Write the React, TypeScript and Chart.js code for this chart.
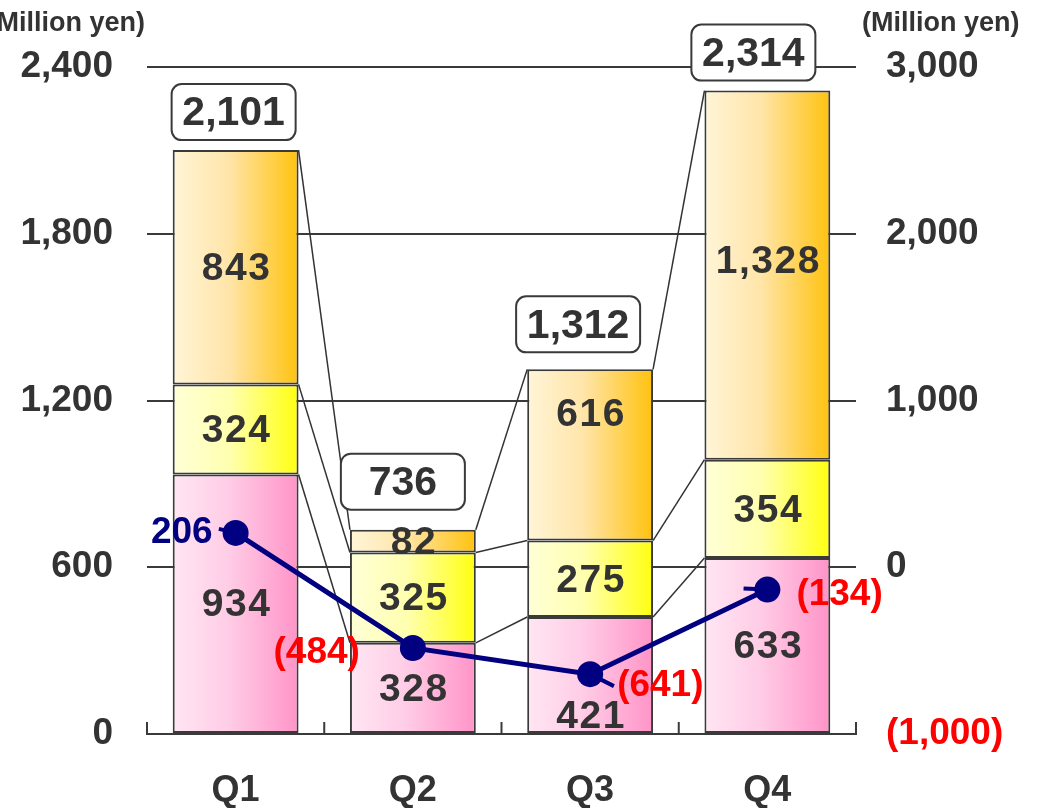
import React, { useEffect, useRef } from "react";
import { Chart, registerables } from "chart.js";

Chart.register(...registerables);

const categories = ["Q1", "Q2", "Q3", "Q4"];
const bottomSeries = [934, 328, 421, 633];
const middleSeries = [324, 325, 275, 354];
const topSeries = [843, 82, 616, 1328];
const totalLabels = ["2,101", "736", "1,312", "2,314"];
const lineSeries = [206, -484, -641, -134];
const axisTitle = "(Million yen)";

const FONT = "'Liberation Sans', Arial, Helvetica, sans-serif";
const DARK = "#333333";
const LINE_GRAY = "#3a3a3a";
const BAR_RATIO = 0.71;

const fmt = (v: number) => {
  const s = Math.abs(v).toLocaleString("en-US");
  return v < 0 ? `(${s})` : s;
};

function gradientFill(stops: [number, string][]) {
  return (ctx: any) => {
    const chart = ctx.chart;
    const xs = chart.scales && chart.scales.x;
    if (!xs || !chart.chartArea || ctx.dataIndex === undefined) return stops[stops.length - 1][1];
    const cx = xs.getPixelForValue(ctx.dataIndex);
    const w = (xs.width / categories.length) * BAR_RATIO;
    const g = chart.ctx.createLinearGradient(cx - w / 2, 0, cx + w / 2, 0);
    stops.forEach(([p, c]) => g.addColorStop(p, c));
    return g;
  };
}

// per-label pixel nudges (style/layout only)
const segLabelNudge: Record<string, number> = { "2-2": -42, "2-3": -15, "0-2": 40 };
const boxNudge = [
  { dx: -2, gap: 10 },
  { dx: -10, gap: 20 },
  { dx: -12, gap: 17 },
  { dx: -14, gap: 10 },
];
const lineLabelPos = [
  { dx: -23, dy: -2, align: "right", lx: -12, ly: -4 },
  { dx: -53, dy: 3, align: "right", lx: 0, ly: 0 },
  { dx: 27, dy: 10, align: "left", lx: 17, ly: 12 },
  { dx: 29, dy: 3, align: "left", lx: -17, ly: -1 },
];

const decorPlugin = {
  id: "decor",
  beforeDatasetDraw(chart: any, args: any) {
    if (args.index !== 3) return;
    const ctx = chart.ctx;
    const metas = [0, 1, 2].map((i) => chart.getDatasetMeta(i));
    // connectors
    ctx.save();
    ctx.strokeStyle = DARK;
    ctx.lineWidth = 1.5;
    metas.forEach((meta: any) => {
      for (let i = 0; i < meta.data.length - 1; i++) {
        const a = meta.data[i];
        const b = meta.data[i + 1];
        ctx.beginPath();
        ctx.moveTo(a.x + a.width / 2, a.y);
        ctx.lineTo(b.x - b.width / 2, b.y);
        ctx.stroke();
      }
    });
    // segment labels
    ctx.font = `bold 39px ${FONT}`;
    (ctx as any).letterSpacing = "1.5px";
    ctx.fillStyle = DARK;
    ctx.textAlign = "center";
    ctx.textBaseline = "middle";
    metas.forEach((meta: any, k: number) => {
      const ds = chart.data.datasets[k];
      meta.data.forEach((el: any, i: number) => {
        const cy = (el.y + el.base) / 2 + (segLabelNudge[`${k}-${i}`] || 0);
        ctx.fillText(fmt(ds.data[i]), el.x + 1, cy + 2);
      });
    });
    (ctx as any).letterSpacing = "0px";
    // leader stubs for line labels
    const lineMeta = chart.getDatasetMeta(3);
    ctx.strokeStyle = "#000080";
    ctx.lineWidth = 4;
    lineMeta.data.forEach((pt: any, i: number) => {
      const p = lineLabelPos[i];
      if (!p.lx && !p.ly) return;
      ctx.beginPath();
      ctx.moveTo(pt.x, pt.y);
      ctx.lineTo(pt.x + p.lx * 1.4, pt.y + p.ly);
      ctx.stroke();
    });
    ctx.restore();
  },
  afterDatasetsDraw(chart: any) {
    const ctx = chart.ctx;
    const area = chart.chartArea;
    const topMeta = chart.getDatasetMeta(2);
    // total boxes
    ctx.save();
    topMeta.data.forEach((el: any, i: number) => {
      const w = 124;
      const h = 56;
      const cx = el.x + boxNudge[i].dx;
      const bottom = el.y - boxNudge[i].gap;
      const x = cx - w / 2;
      const y = bottom - h;
      ctx.beginPath();
      (ctx as any).roundRect(x, y, w, h, 10);
      ctx.fillStyle = "#ffffff";
      ctx.fill();
      ctx.lineWidth = 2;
      ctx.strokeStyle = LINE_GRAY;
      ctx.stroke();
      ctx.fillStyle = DARK;
      ctx.font = `bold 41px ${FONT}`;
      ctx.textAlign = "center";
      ctx.textBaseline = "middle";
      ctx.fillText(totalLabels[i], cx, y + h / 2 + 2);
    });
    // line labels
    const lineMeta = chart.getDatasetMeta(3);
    ctx.font = `bold 37px ${FONT}`;
    ctx.textBaseline = "middle";
    lineMeta.data.forEach((pt: any, i: number) => {
      const v = lineSeries[i];
      const p = lineLabelPos[i];
      ctx.fillStyle = v < 0 ? "#FF0000" : "#000080";
      ctx.textAlign = p.align as CanvasTextAlign;
      ctx.fillText(fmt(v), pt.x + p.dx, pt.y + p.dy + 2);
    });
    // bottom axis tick marks (inward)
    ctx.strokeStyle = LINE_GRAY;
    ctx.lineWidth = 2;
    const n = categories.length;
    for (let i = 0; i <= n; i++) {
      const x = area.left + ((area.right - area.left) * i) / n;
      ctx.beginPath();
      ctx.moveTo(x, area.bottom);
      ctx.lineTo(x, area.bottom - 12);
      ctx.stroke();
    }
    // axis titles
    ctx.font = `bold 27px ${FONT}`;
    ctx.fillStyle = DARK;
    ctx.textBaseline = "middle";
    ctx.textAlign = "right";
    ctx.fillText(axisTitle, 145, 24);
    ctx.textAlign = "left";
    ctx.fillText(axisTitle, 862, 24);
    ctx.restore();
  },
};

export default function App() {
  const ref = useRef<HTMLCanvasElement | null>(null);

  useEffect(() => {
    document.body.style.margin = "0";
    const canvas = ref.current;
    if (!canvas) return;
    const barCommon = {
      type: "bar",
      yAxisID: "y",
      stack: "s",
      order: 1,
      borderColor: LINE_GRAY,
      borderWidth: 2,
      borderSkipped: false,
      categoryPercentage: 1,
      barPercentage: BAR_RATIO,
    };
    const chart = new Chart(canvas, {
      type: "bar",
      data: {
        labels: categories,
        datasets: [
          {
            ...barCommon,
            data: bottomSeries,
            backgroundColor: gradientFill([
              [0, "#FFE6F3"],
              [0.45, "#FFCCE6"],
              [1, "#FF94C8"],
            ]),
          },
          {
            ...barCommon,
            data: middleSeries,
            backgroundColor: gradientFill([
              [0, "#FFFFD8"],
              [0.45, "#FFFFB0"],
              [1, "#FFFF10"],
            ]),
          },
          {
            ...barCommon,
            data: topSeries,
            backgroundColor: gradientFill([
              [0, "#FFF5D8"],
              [0.45, "#FFE5A8"],
              [1, "#FFC20E"],
            ]),
          },
          {
            type: "line",
            data: lineSeries,
            yAxisID: "y1",
            order: 0,
            borderColor: "#000080",
            backgroundColor: "#000080",
            borderWidth: 5,
            pointRadius: 13,
            pointBackgroundColor: "#000080",
            pointBorderWidth: 0,
            tension: 0,
            fill: false,
          },
        ],
      } as any,
      options: {
        responsive: false,
        animation: false,
        layout: { padding: { top: 67, left: 0, right: 0, bottom: 0 } },
        plugins: {
          legend: { display: false },
          tooltip: { enabled: false },
          title: { display: false },
        },
        scales: {
          x: {
            type: "category",
            stacked: true,
            offset: true,
            grid: { display: false, drawTicks: false },
            border: { display: true, color: LINE_GRAY, width: 2 },
            ticks: {
              color: DARK,
              font: { family: FONT, size: 36, weight: "bold" },
              padding: 35,
              maxRotation: 0,
            },
            afterFit: (s: any) => {
              s.height = 74;
            },
          },
          y: {
            type: "linear",
            position: "left",
            stacked: true,
            min: 0,
            max: 2400,
            grid: { color: LINE_GRAY, lineWidth: 2, drawTicks: false },
            border: { display: false },
            ticks: {
              stepSize: 600,
              color: DARK,
              font: { family: FONT, size: 37, weight: "bold" },
              padding: 34,
              callback: (v: any) => fmt(Number(v)),
            },
            afterFit: (s: any) => {
              s.width = 147;
            },
          },
          y1: {
            type: "linear",
            position: "right",
            min: -1000,
            max: 3000,
            grid: { display: false, drawTicks: false },
            border: { display: false },
            ticks: {
              stepSize: 1000,
              color: (c: any) => (c.tick && c.tick.value < 0 ? "#FF0000" : DARK),
              font: { family: FONT, size: 37, weight: "bold" },
              padding: 30,
              callback: (v: any) => fmt(Number(v)),
            },
            afterFit: (s: any) => {
              s.width = 181;
            },
          },
        },
      } as any,
      plugins: [decorPlugin],
    });
    return () => chart.destroy();
  }, []);

  return <canvas ref={ref} width={1037} height={808} style={{ display: "block" }} />;
}
